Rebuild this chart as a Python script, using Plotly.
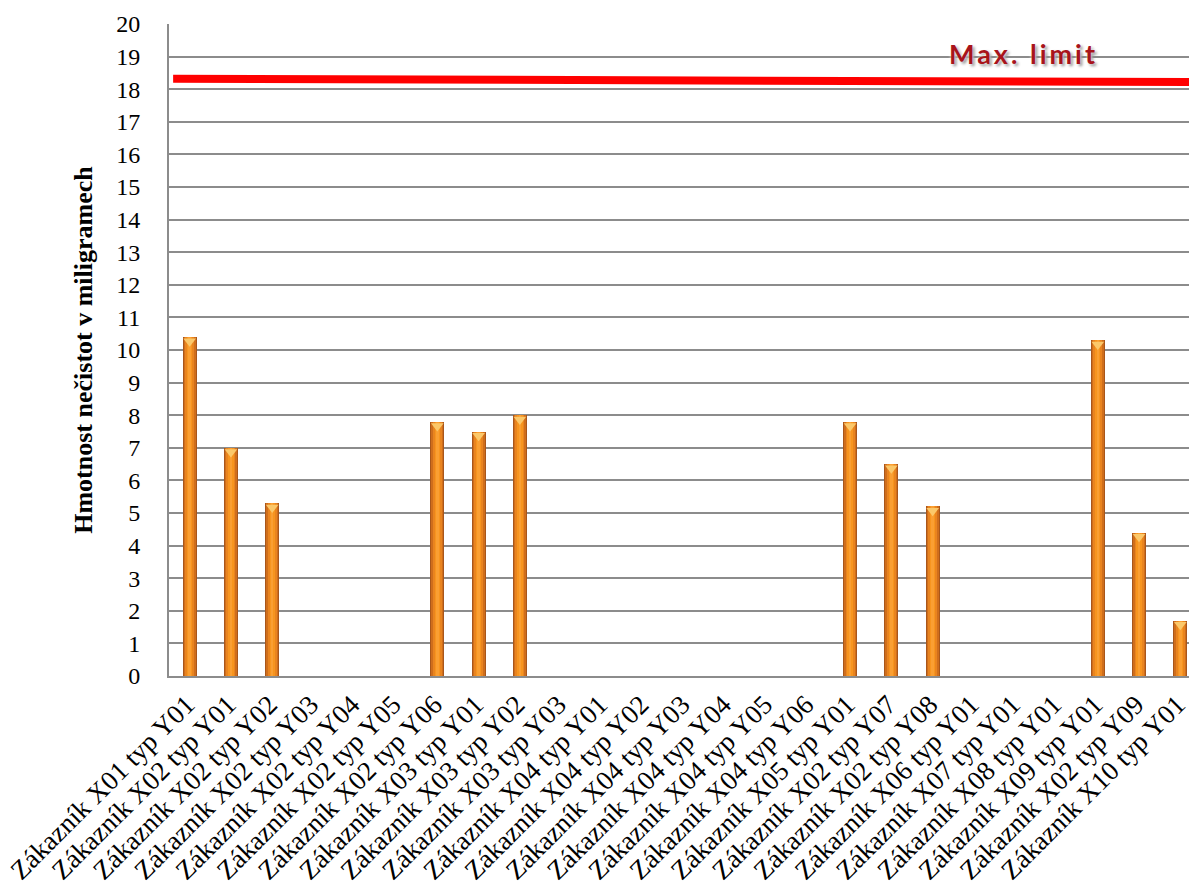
import plotly.graph_objects as go

# Categories (customer / type) and impurity mass in milligrams
categories = [
    "Zákazník X01 typ Y01", "Zákazník X02 typ Y01", "Zákazník X02 typ Y02",
    "Zákazník X02 typ Y03", "Zákazník X02 typ Y04", "Zákazník X02 typ Y05",
    "Zákazník X02 typ Y06", "Zákazník X03 typ Y01", "Zákazník X03 typ Y02",
    "Zákazník X03 typ Y03", "Zákazník X04 typ Y01", "Zákazník X04 typ Y02",
    "Zákazník X04 typ Y03", "Zákazník X04 typ Y04", "Zákazník X04 typ Y05",
    "Zákazník X04 typ Y06", "Zákazník X05 typ Y01", "Zákazník X02 typ Y07",
    "Zákazník X02 typ Y08", "Zákazník X06 typ Y01", "Zákazník X07 typ Y01",
    "Zákazník X08 typ Y01", "Zákazník X09 typ Y01", "Zákazník X02 typ Y09",
    "Zákazník X10 typ Y01",
]
values = [10.4, 7.0, 5.3, 0, 0, 0, 7.8, 7.5, 8.0, 0, 0, 0, 0, 0, 0, 0,
          7.8, 6.5, 5.2, 0, 0, 0, 10.3, 4.4, 1.7]

# Maximum limit line (left end, right end)
limit_values = [18.32, 18.22]
limit_label = "Max. limit"

y_ticks = list(range(0, 21))
y_title = "Hmotnost nečistot v miligramech"

idx = list(range(len(categories)))
x_lo, x_hi = -0.5, 24.21

fig = go.Figure()

# Cylinder-like bars: stacked layers of decreasing width and lighter colour
layers = [(0.34, "#a9561a"), (0.29, "#cf6e1c"), (0.22, "#e9841f"), (0.13, "#f7951f"), (0.06, "#fa9f33")]
for w, c in layers:
    fig.add_trace(go.Bar(
        x=idx, y=values, width=w, marker=dict(color=c, line=dict(width=0)),
        hoverinfo="skip", showlegend=False,
    ))

# Light cap on top of each bar
cap_x = [i for i, v in zip(idx, values) if v > 0]
cap_y = [v - 0.13 for v in values if v > 0]
fig.add_trace(go.Scatter(
    x=cap_x, y=cap_y, mode="markers",
    marker=dict(symbol="triangle-down", size=11, color="#fbc86a", line=dict(width=0)),
    hoverinfo="skip", showlegend=False,
))

# Limit line
fig.add_trace(go.Scatter(
    x=[x_lo + 0.1, x_hi], y=limit_values, mode="lines",
    line=dict(color="#ff0000", width=8), hoverinfo="skip", showlegend=False,
))

fig.add_annotation(
    x=0.838, xref="paper", y=19.1, yref="y",
    text='<span style="letter-spacing:3px">' + limit_label + "</span>",
    showarrow=False, xanchor="center", yanchor="middle",
    font=dict(family="Lato", size=27, color="#a8141b", weight="bold",
              shadow="0px 0px 3px #ffffff, 2px 2px 3px #8a8a8a"),
)

grid_col = "#8c8c8c"
fig.update_layout(
    width=1189, height=890,
    margin=dict(l=169, r=0, t=24, b=214, autoexpand=False),
    paper_bgcolor="white", plot_bgcolor="white",
    barmode="overlay", bargap=0,
    font=dict(family="Liberation Serif", size=24, color="black"),
    xaxis=dict(
        tickmode="array", tickvals=idx, ticktext=categories, tickangle=-45,
        range=[x_lo, x_hi], showgrid=False, zeroline=False,
        showline=True, linecolor=grid_col, linewidth=2, ticks="",
        ticklabeloverflow="allow", automargin=False, ticklabelshift=-3,
        tickfont=dict(family="Liberation Serif", size=27),
    ),
    yaxis=dict(
        range=[0, 20], tickmode="array", tickvals=y_ticks,
        showgrid=True, gridcolor=grid_col, gridwidth=1.5, zeroline=False,
        showline=True, linecolor=grid_col, linewidth=2, ticks="",
        ticklabelstandoff=22, automargin=False,
        tickfont=dict(family="Liberation Serif", size=24),
        title=dict(text=y_title, font=dict(family="Liberation Serif", size=26, weight="bold"), standoff=16),
    ),
)

fig.write_html("out.html")
